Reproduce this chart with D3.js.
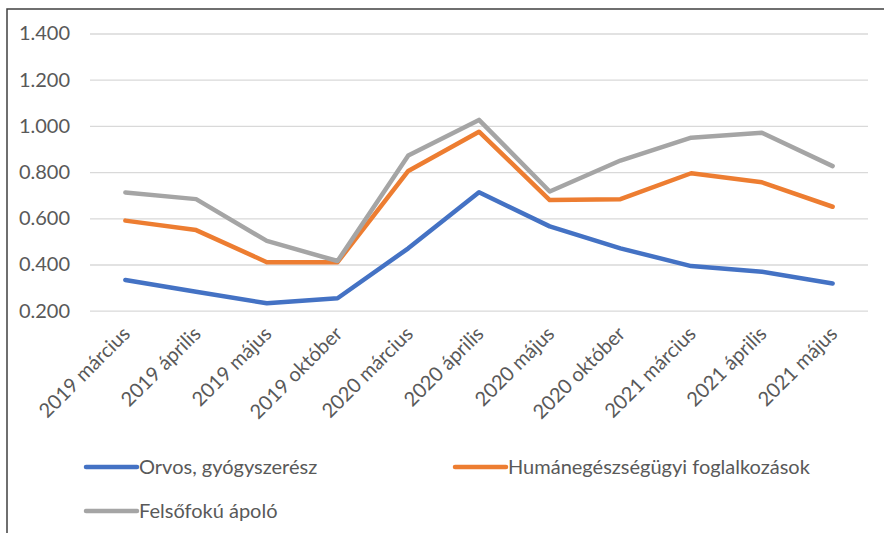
<!DOCTYPE html>
<html>
<head>
<meta charset="utf-8">
<script src="https://cdn.jsdelivr.net/npm/d3@7"></script>
<style>
  html, body { margin: 0; padding: 0; background: #fff; }
  svg { display: block; }
  text { font-family: Lato, "Open Sans", sans-serif; fill: #595959; }
</style>
</head>
<body>
<svg id="chart" width="884" height="533"></svg>
<script>
const categories = ["2019 március", "2019 április", "2019 május", "2019 október",
  "2020 március", "2020 április", "2020 május", "2020 október",
  "2021 március", "2021 április", "2021 május"];
const orvos = [0.333, 0.282, 0.232, 0.254, 0.470, 0.713, 0.565, 0.470, 0.393, 0.369, 0.318];
const human = [0.590, 0.549, 0.410, 0.410, 0.805, 0.975, 0.679, 0.683, 0.795, 0.756, 0.650];
const apolo = [0.712, 0.683, 0.502, 0.415, 0.872, 1.026, 0.716, 0.850, 0.949, 0.970, 0.826];
const seriesNames = ["Orvos, gyógyszerész", "Humánegészségügyi foglalkozások", "Felsőfokú ápoló"];
const tickValues = [0.2, 0.4, 0.6, 0.8, 1.0, 1.2, 1.4];
const tickLabels = ["0.200", "0.400", "0.600", "0.800", "1.000", "1.200", "1.400"];
const colors = ["#4472C4", "#ED7D31", "#A5A5A5"];

const FS = 20;
const svg = d3.select("#chart");
svg.append("rect").attr("width", 884).attr("height", 533).attr("fill", "#fff");

// outer chart border (left and top visible)
svg.append("path").attr("d", "M7,533 V9 H884")
  .attr("fill", "none").attr("stroke", "#404040").attr("stroke-width", 1.5);

const x = d3.scaleBand().domain(categories).range([90, 868]);
const y = d3.scaleLinear().domain([0.2, 1.4]).range([310.7, 33.5]);
const cx = c => x(c) + x.bandwidth() / 2;

// gridlines
const yAxis = d3.axisLeft(y).tickValues(tickValues)
  .tickFormat((d, i) => tickLabels[i]).tickSize(-(868 - 90)).tickPadding(20);
const gy = svg.append("g").attr("transform", "translate(90,0)").call(yAxis);
gy.select(".domain").remove();
gy.selectAll(".tick line").attr("stroke", "#d9d9d9").attr("stroke-width", 1.3);
gy.selectAll(".tick text").attr("font-size", FS).attr("fill", "#595959")
  .style("font-family", "Lato, sans-serif");

// x axis labels
const xAxis = d3.axisBottom(x).tickSize(0).tickPadding(0);
const gx = svg.append("g").attr("transform", "translate(0,335)").call(xAxis);
gx.select(".domain").remove();
gx.selectAll(".tick text")
  .attr("font-size", FS)
  .attr("fill", "#595959")
  .style("font-family", "Lato, sans-serif")
  .attr("text-anchor", "end")
  .attr("dy", 0)
  .attr("y", 0)
  .attr("transform", "translate(6,0) rotate(-45)");

// lines
const allSeries = [orvos, human, apolo];
const line = d3.line().x((d, i) => cx(categories[i])).y(d => y(d));
allSeries.forEach((s, k) => {
  svg.append("path").datum(s)
    .attr("d", line)
    .attr("fill", "none")
    .attr("stroke", colors[k])
    .attr("stroke-width", 4.5)
    .attr("stroke-linejoin", "round")
    .attr("stroke-linecap", "round");
});

// legend
const legendPos = [[86, 467], [455, 467], [86, 511]];
seriesNames.forEach((name, k) => {
  const [lx, ly] = legendPos[k];
  svg.append("line").attr("x1", lx).attr("x2", lx + 51).attr("y1", ly).attr("y2", ly)
    .attr("stroke", colors[k]).attr("stroke-width", 4.5).attr("stroke-linecap", "round");
  svg.append("text").attr("x", lx + 53).attr("y", ly + 7)
    .attr("font-size", FS).text(name);
});
</script>
</body>
</html>
